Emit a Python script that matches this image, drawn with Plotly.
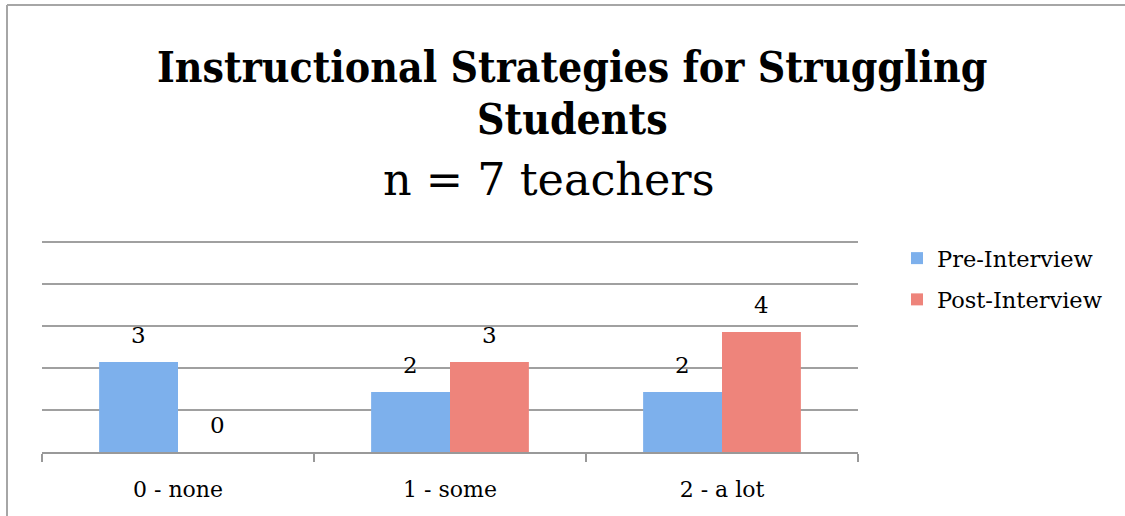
import plotly.graph_objects as go

categories = ["0 - none", "1 - some", "2 - a lot"]
pre_interview = [3, 2, 2]
post_interview = [0, 3, 4]
series_names = ["Pre-Interview", "Post-Interview"]
grid_values = [1.4, 2.8, 4.2, 5.6, 7]

W, H = 1125, 516
ml, mr, mt, mb = 42, 267, 239, 64
pw, ph = W - ml - mr, H - mt - mb

FONT = "DejaVu Serif"
TFONT = "DejaVu Serif Condensed, DejaVu Serif"
colors = ["#7DB0EC", "#EE847B"]

fig = go.Figure()
for i, (name, vals) in enumerate(zip(series_names, [pre_interview, post_interview])):
    fig.add_trace(go.Bar(
        x=categories, y=vals, name=name, legendgroup=name,
        marker=dict(color=colors[i], line=dict(width=0)),
    ))

# value labels above the bars (positioned from the data values)
bar_px = pw / len(categories) * (1 - 0.42) / 2
for i, vals in enumerate([pre_interview, post_interview]):
    shift = (i - 0.5) * bar_px
    for c, v in zip(categories, vals):
        fig.add_annotation(x=c, y=v, xref="x", yref="y", text=str(v), showarrow=False,
                           xshift=shift, yshift=27, yanchor="middle",
                           font=dict(family=FONT, size=23, color="#000"))

# title lines
tx = (572 - ml) / pw
fig.add_annotation(text="<b>Instructional Strategies for Struggling</b>", xref="paper", yref="paper",
                   x=tx, y=(H - mb - 67) / ph, yanchor="middle", showarrow=False,
                   font=dict(family=TFONT, size=42.4, color="#000"))
fig.add_annotation(text="<b>Students</b>", xref="paper", yref="paper",
                   x=tx, y=(H - mb - 119) / ph, yanchor="middle", showarrow=False,
                   font=dict(family=TFONT, size=42.4, color="#000"))
fig.add_annotation(text="n = 7 teachers", xref="paper", yref="paper",
                   x=(548 - ml) / pw, y=(H - mb - 179) / ph, yanchor="middle", showarrow=False,
                   font=dict(family=FONT, size=44.5, color="#000"))

# frame lines (top and left) of the original chart area
fx = (7 - ml) / pw
fy = (H - mb - 5) / ph
fig.add_shape(type="line", xref="paper", yref="paper", x0=fx, x1=(1125 - ml) / pw, y0=fy, y1=fy,
              line=dict(color="#A6A6A6", width=2))
fig.add_shape(type="line", xref="paper", yref="paper", x0=fx, x1=fx, y0=fy, y1=-mb / ph,
              line=dict(color="#A6A6A6", width=2))

fig.update_layout(
    width=W, height=H,
    margin=dict(l=ml, r=mr, t=mt, b=mb, autoexpand=False),
    paper_bgcolor="white", plot_bgcolor="white",
    barmode="group", bargap=0.42, bargroupgap=0,
    showlegend=True,
    legend=dict(
        x=(897 - ml) / pw, xanchor="left", y=(H - mb - 237) / ph, yanchor="top",
        font=dict(family=FONT, size=22.5, color="#000"),
        tracegroupgap=9, bgcolor="rgba(0,0,0,0)",
    ),
    xaxis=dict(
        showgrid=False, showline=True, linecolor="#999", linewidth=2,
        ticks="outside", tickson="boundaries", ticklen=8, tickcolor="#999", tickwidth=2,
        ticklabelstandoff=17,
        tickfont=dict(family=FONT, size=22, color="#000"), automargin=False,
    ),
    yaxis=dict(
        range=[0, 7.1], tickvals=grid_values, showticklabels=False,
        showgrid=True, gridcolor="#A0A0A0", gridwidth=2, zeroline=False, automargin=False,
    ),
)

fig.write_html("out.html", config={"displayModeBar": False},
               post_script="document.body.style.margin='0';document.body.style.overflow='hidden';")
